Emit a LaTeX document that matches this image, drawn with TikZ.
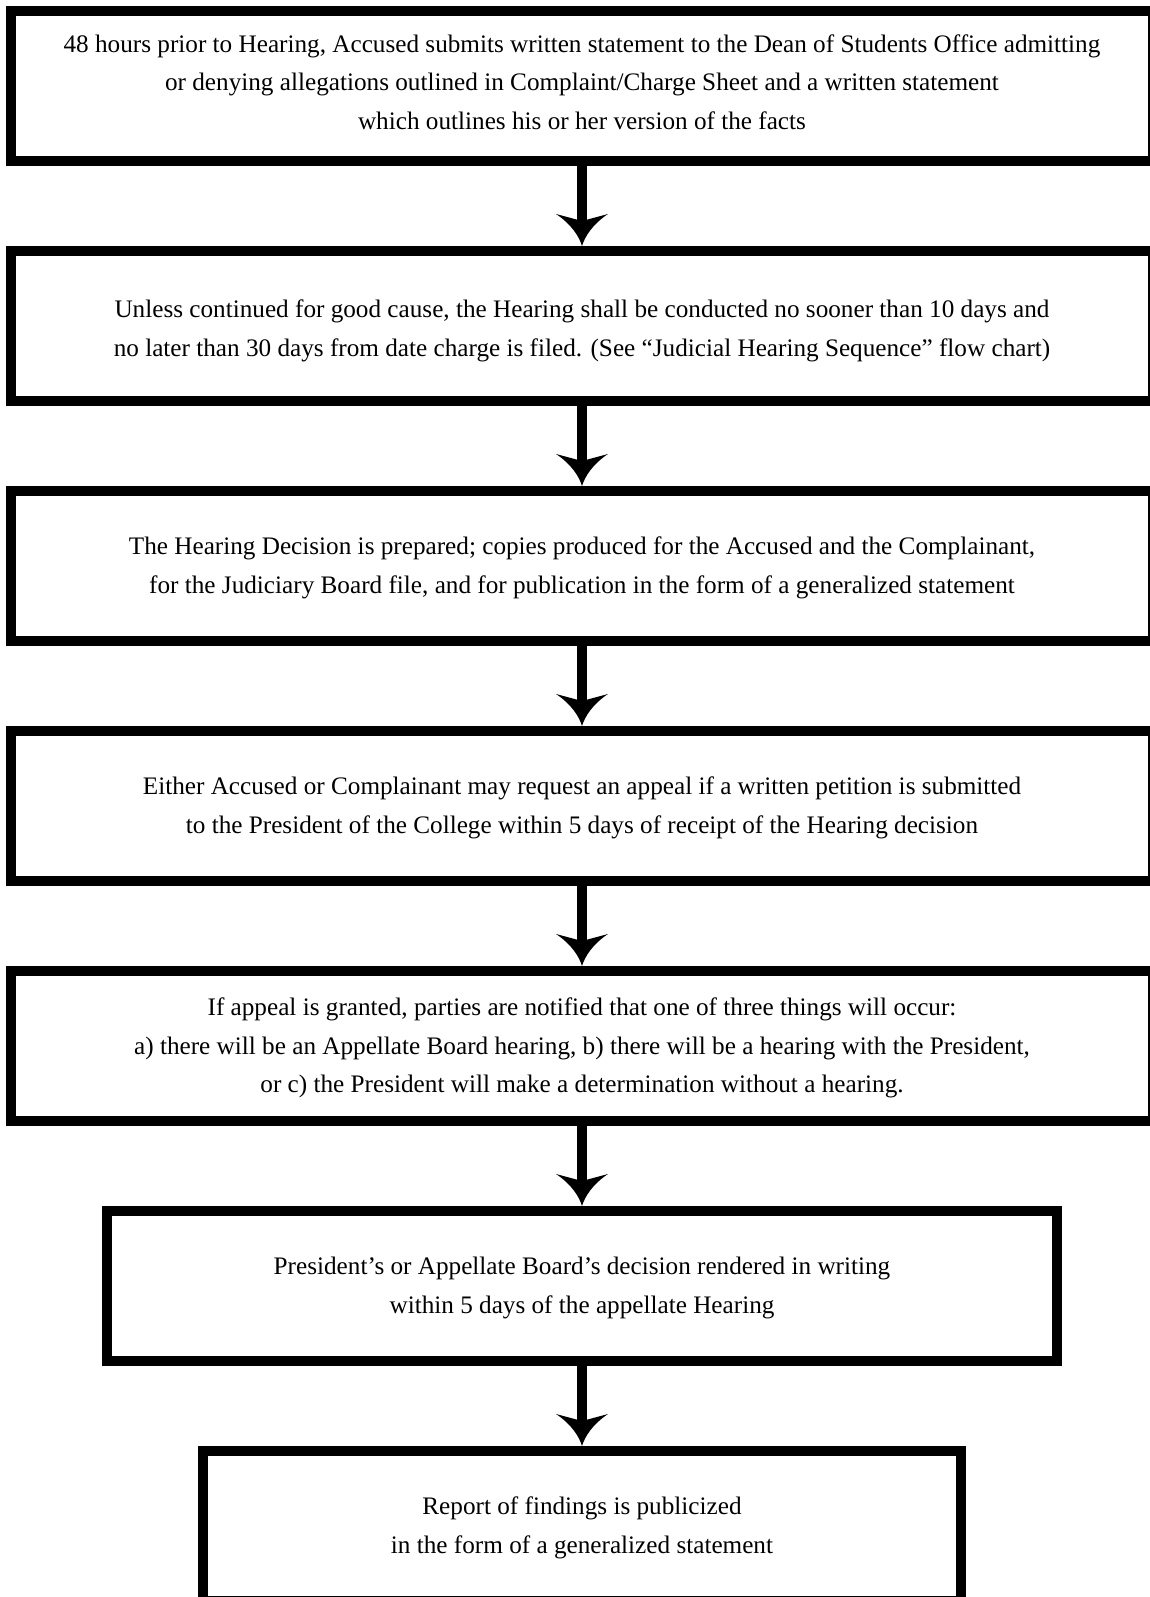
\documentclass[tikz,border=0pt]{standalone}
\usepackage{fontspec}
\setmainfont{Liberation Serif}
\usetikzlibrary{arrows.meta}
\pgfdeclarearrow{
  name = curvytip,
  setup code = {
    \pgfarrowssettipend{0pt}
    \pgfarrowssetlineend{-24pt}
    \pgfarrowssetbackend{-32pt}
    \pgfarrowshullpoint{0pt}{0pt}
    \pgfarrowshullpoint{-32pt}{26pt}
    \pgfarrowshullpoint{-32pt}{-26pt}
  },
  drawing code = {
    \pgfpathmoveto{\pgfqpoint{0pt}{0pt}}
    \pgfpathcurveto{\pgfqpoint{-10pt}{3pt}}{\pgfqpoint{-22pt}{11pt}}{\pgfqpoint{-32pt}{26pt}}
    \pgfpathlineto{\pgfqpoint{-25pt}{0pt}}
    \pgfpathlineto{\pgfqpoint{-32pt}{-26pt}}
    \pgfpathcurveto{\pgfqpoint{-22pt}{-11pt}}{\pgfqpoint{-10pt}{-3pt}}{\pgfqpoint{0pt}{0pt}}
    \pgfpathclose
    \pgfusepathqfill
  },
}
\tikzset{
  flowbox/.style={draw=black, line width=10pt, rectangle, fill=white,
    minimum height=150pt, inner sep=0pt},
  flowtext/.style={inner sep=0pt, align=center,
    font=\fontsize{25.2}{38.5}\selectfont},
  flowarrow/.style={line width=10pt, -curvytip},
}
\begin{document}
\begin{tikzpicture}[x=1pt,y=-1pt]
\useasboundingbox (0,0) rectangle (1150,1597);
\fill[white] (0,0) rectangle (1150,1597);
\clip (0,0) rectangle (1150,1597);
\node[flowbox, minimum width=1142pt] (b1) at (582,86) {};
\node[flowbox, minimum width=1142pt] (b2) at (582,326) {};
\node[flowbox, minimum width=1142pt] (b3) at (582,566) {};
\node[flowbox, minimum width=1142pt] (b4) at (582,806) {};
\node[flowbox, minimum width=1142pt] (b5) at (582,1046) {};
\node[flowbox, minimum width=950pt] (b6) at (582,1286) {};
\node[flowbox, minimum width=758pt] (b7) at (582,1526) {};
\node[flowtext] (t1) at ([yshift=4pt]b1.center) {48 hours prior to Hearing, Accused submits written statement to the Dean of Students Office admitting\\ or denying allegations outlined in Complaint/Charge Sheet and a written statement\\ which outlines his or her version of the facts};
\node[flowtext] (t2) at ([yshift=-5pt]b2.center) {Unless continued for good cause, the Hearing shall be conducted no sooner than 10 days and\\ no later than 30 days from date charge is filed. (See “Judicial Hearing Sequence” flow chart)};
\node[flowtext] (t3) at ([yshift=-2pt]b3.center) {The Hearing Decision is prepared; copies produced for the Accused and the Complainant,\\ for the Judiciary Board file, and for publication in the form of a generalized statement};
\node[flowtext] (t4) at ([yshift=-2pt]b4.center) {Either Accused or Complainant may request an appeal if a written petition is submitted\\ to the President of the College within 5 days of receipt of the Hearing decision};
\node[flowtext] (t5) at ([yshift=-2pt]b5.center) {If appeal is granted, parties are notified that one of three things will occur:\\ a) there will be an Appellate Board hearing, b) there will be a hearing with the President,\\ or c) the President will make a determination without a hearing.};
\node[flowtext] (t6) at ([yshift=-2pt]b6.center) {President’s or Appellate Board’s decision rendered in writing\\ within 5 days of the appellate Hearing};
\node[flowtext] (t7) at ([yshift=-2pt]b7.center) {Report of findings is publicized\\ in the form of a generalized statement};
\foreach \a/\b in {b1/b2,b2/b3,b3/b4,b4/b5,b5/b6,b6/b7}
  \draw[flowarrow] (\a.south) -- (\b.north);
\end{tikzpicture}
\end{document}
